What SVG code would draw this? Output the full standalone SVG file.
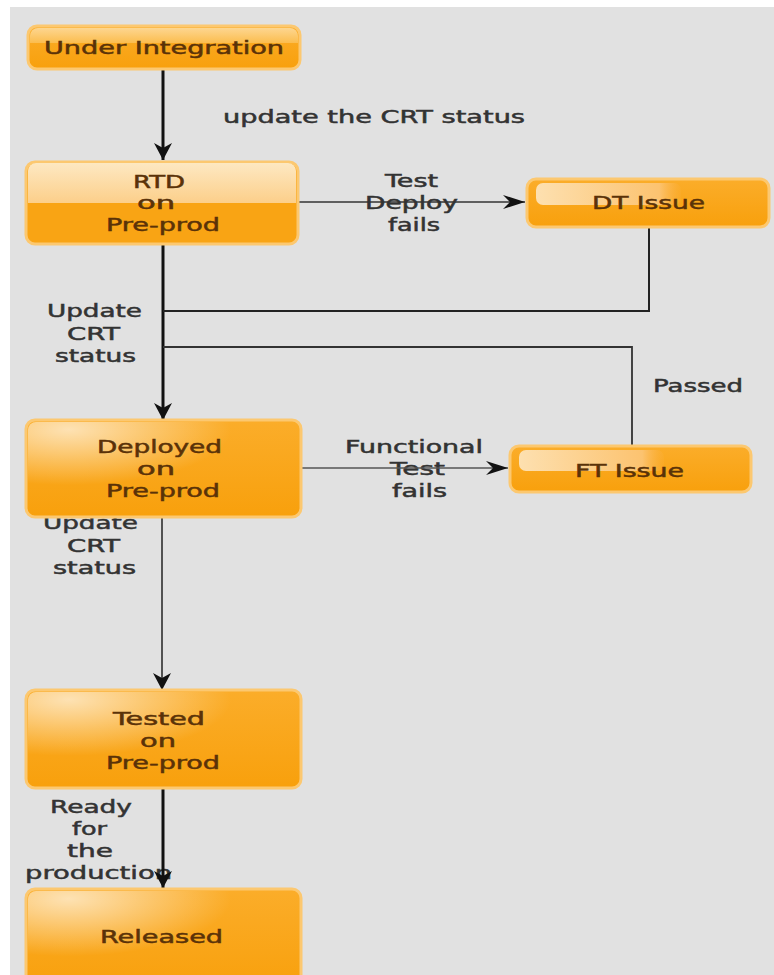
<svg xmlns="http://www.w3.org/2000/svg" width="774" height="975" viewBox="0 0 774 975">
<defs>
<style>
.t{font-family:"DejaVu Sans","Liberation Sans",sans-serif;font-size:18px;stroke-width:0.5px;}
.n{fill:#5a3208;stroke:#5a3208;}
.e{fill:#333333;stroke:#333333;}
.box{stroke:#fcc870;stroke-width:3;}
.c{fill:none;}
</style>
<linearGradient id="org" x1="0" y1="0" x2="0" y2="1">
<stop offset="0" stop-color="#fbad2a"/>
<stop offset="1" stop-color="#f8a00c"/>
</linearGradient>
<linearGradient id="lite" x1="0" y1="0" x2="0" y2="1">
<stop offset="0" stop-color="#fde8c2"/>
<stop offset="1" stop-color="#fccf8a"/>
</linearGradient>
<linearGradient id="uitop" x1="0" y1="0" x2="0" y2="1">
<stop offset="0" stop-color="#fdd690"/>
<stop offset="1" stop-color="#fbbd4e"/>
</linearGradient>
<radialGradient id="hl" cx="0.15" cy="0.08" r="0.6">
<stop offset="0" stop-color="#ffffff" stop-opacity="0.65"/>
<stop offset="1" stop-color="#ffffff" stop-opacity="0"/>
</radialGradient>
<linearGradient id="pill" x1="0" y1="0" x2="1" y2="0">
<stop offset="0" stop-color="#fde0b0"/>
<stop offset="0.85" stop-color="#fcc370"/>
<stop offset="1" stop-color="#fbb040" stop-opacity="0.2"/>
</linearGradient>
<marker id="ah" markerWidth="18" markerHeight="20" refX="17" refY="9" orient="auto" markerUnits="userSpaceOnUse">
<path d="M0,0 L17,9 L0,18 L5,9 z" fill="#111"/>
</marker>
<marker id="ah2" markerWidth="24" markerHeight="14" refX="22" refY="7" orient="auto" markerUnits="userSpaceOnUse">
<path d="M0,0 L22,7 L0,14 L7,7 z" fill="#111"/>
</marker>
</defs>
<rect x="0" y="0" width="774" height="975" fill="#ffffff"/>
<rect x="10" y="7" width="764" height="968" fill="#e1e1e1"/>

<g id="labels">
<text class="t e" x="223" y="123" textLength="302" lengthAdjust="spacingAndGlyphs">update the CRT status</text>
<text class="t e" x="385" y="187" textLength="53" lengthAdjust="spacingAndGlyphs">Test</text>
<text class="t e" x="365" y="209" textLength="93" lengthAdjust="spacingAndGlyphs">Deploy</text>
<text class="t e" x="388" y="231" textLength="52" lengthAdjust="spacingAndGlyphs">fails</text>
<text class="t e" x="47" y="317" textLength="95" lengthAdjust="spacingAndGlyphs">Update</text>
<text class="t e" x="67" y="340" textLength="53" lengthAdjust="spacingAndGlyphs">CRT</text>
<text class="t e" x="55" y="362" textLength="81" lengthAdjust="spacingAndGlyphs">status</text>
<text class="t e" x="653" y="392" textLength="90" lengthAdjust="spacingAndGlyphs">Passed</text>
<text class="t e" x="345" y="453" textLength="138" lengthAdjust="spacingAndGlyphs">Functional</text>
<text class="t e" x="390" y="475" textLength="55" lengthAdjust="spacingAndGlyphs">Test</text>
<text class="t e" x="392" y="497" textLength="55" lengthAdjust="spacingAndGlyphs">fails</text>
<text class="t e" x="43" y="529" textLength="95" lengthAdjust="spacingAndGlyphs">Update</text>
<text class="t e" x="67" y="552" textLength="53" lengthAdjust="spacingAndGlyphs">CRT</text>
<text class="t e" x="53" y="574" textLength="83" lengthAdjust="spacingAndGlyphs">status</text>
<text class="t e" x="50" y="813" textLength="82" lengthAdjust="spacingAndGlyphs">Ready</text>
<text class="t e" x="72" y="835" textLength="35" lengthAdjust="spacingAndGlyphs">for</text>
<text class="t e" x="67" y="857" textLength="46" lengthAdjust="spacingAndGlyphs">the</text>
<text class="t e" x="25" y="879" textLength="147" lengthAdjust="spacingAndGlyphs">production</text>
</g>

<g id="connectors">
<path class="c" d="M163,70 V160" stroke="#111" stroke-width="3" marker-end="url(#ah)"/>
<path class="c" d="M163,245 V420" stroke="#111" stroke-width="3" marker-end="url(#ah)"/>
<path class="c" d="M298,202 H525" stroke="#333" stroke-width="1.5" marker-end="url(#ah2)"/>
<path class="c" d="M649,227 V311 H163" stroke="#222" stroke-width="2"/>
<path class="c" d="M163,347 H632 V445" stroke="#333" stroke-width="1.8"/>
<path class="c" d="M302,468 H508" stroke="#555" stroke-width="1.5" marker-end="url(#ah2)"/>
<path class="c" d="M162,518 V690" stroke="#222" stroke-width="1.5" marker-end="url(#ah)"/>
<path class="c" d="M163,789 V888" stroke="#111" stroke-width="3" marker-end="url(#ah)"/>
</g>

<g id="under-integration">
<rect class="box" x="28" y="26" width="272" height="43" rx="9" fill="url(#org)"/>
<path d="M30,36 a8,8 0 0 1 8,-8 H290 a8,8 0 0 1 8,8 V43 H30 z" fill="url(#uitop)"/>
<text class="t n" x="44" y="54" textLength="240" lengthAdjust="spacingAndGlyphs">Under Integration</text>
</g>

<g id="rtd">
<rect class="box" x="26" y="162" width="272" height="82" rx="9" fill="#f9a414"/>
<path d="M28,171 a8,8 0 0 1 8,-8 H288 a8,8 0 0 1 8,8 V203 H28 z" fill="url(#lite)"/>
<text class="t n" x="133" y="187.5" textLength="52" lengthAdjust="spacingAndGlyphs">RTD</text>
<text class="t n" x="137" y="209" textLength="38" lengthAdjust="spacingAndGlyphs">on</text>
<text class="t n" x="106" y="231" textLength="114" lengthAdjust="spacingAndGlyphs">Pre-prod</text>
</g>

<g id="dt-issue">
<rect class="box" x="527" y="179" width="242" height="48" rx="9" fill="url(#org)"/>
<rect x="536" y="183" width="145" height="22" rx="7" fill="url(#pill)"/>
<text class="t n" x="592" y="209" textLength="113" lengthAdjust="spacingAndGlyphs">DT Issue</text>
</g>

<g id="deployed">
<rect class="box" x="26" y="420" width="275" height="97" rx="9" fill="url(#org)"/>
<rect x="28" y="422" width="271" height="93" rx="8" fill="url(#hl)"/>
<text class="t n" x="97" y="453" textLength="125" lengthAdjust="spacingAndGlyphs">Deployed</text>
<text class="t n" x="137" y="475" textLength="38" lengthAdjust="spacingAndGlyphs">on</text>
<text class="t n" x="106" y="497" textLength="114" lengthAdjust="spacingAndGlyphs">Pre-prod</text>
</g>

<g id="ft-issue">
<rect class="box" x="510" y="446" width="241" height="46" rx="9" fill="url(#org)"/>
<rect x="519" y="450" width="145" height="21" rx="7" fill="url(#pill)"/>
<text class="t n" x="575" y="477" textLength="109" lengthAdjust="spacingAndGlyphs">FT Issue</text>
</g>

<g id="tested">
<rect class="box" x="26" y="690" width="275" height="98" rx="9" fill="url(#org)"/>
<rect x="28" y="692" width="271" height="94" rx="8" fill="url(#hl)"/>
<text class="t n" x="113" y="725" textLength="92" lengthAdjust="spacingAndGlyphs">Tested</text>
<text class="t n" x="140" y="747" textLength="36" lengthAdjust="spacingAndGlyphs">on</text>
<text class="t n" x="106" y="769" textLength="114" lengthAdjust="spacingAndGlyphs">Pre-prod</text>
</g>

<g id="released">
<rect class="box" x="26" y="889" width="275" height="100" rx="9" fill="url(#org)"/>
<rect x="28" y="891" width="271" height="96" rx="8" fill="url(#hl)"/>
<text class="t n" x="100" y="943" textLength="123" lengthAdjust="spacingAndGlyphs">Released</text>
</g>
</svg>
